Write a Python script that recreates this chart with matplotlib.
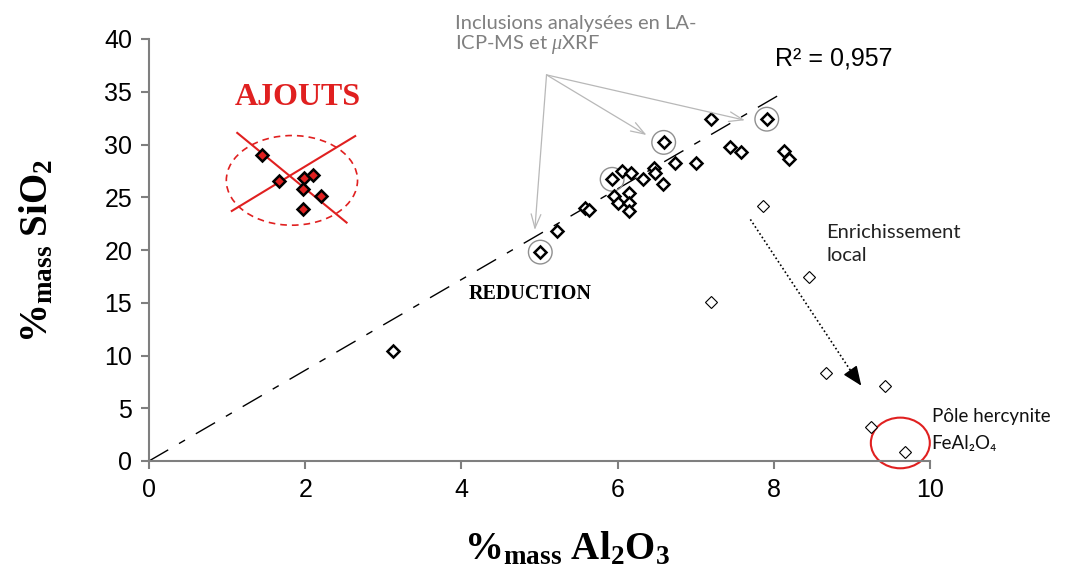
import matplotlib
matplotlib.use("Agg")
import matplotlib.pyplot as plt
from matplotlib.patches import Ellipse
import numpy as np

# main inclusions (thick diamonds)
al2o3 = [3.12, 5.01, 5.22, 5.58, 5.63, 5.93, 6.06, 6.17, 6.32, 6.46, 6.48, 6.58,
         6.59, 6.73, 7.01, 7.19, 7.44, 7.58, 7.91, 8.13, 8.19,
         5.95, 6.14, 6.01, 6.14, 6.15]
sio2 = [10.4, 19.8, 21.8, 24.0, 23.8, 26.7, 27.5, 27.3, 26.7, 27.8, 27.3, 26.3,
        30.2, 28.2, 28.2, 32.4, 29.8, 29.3, 32.4, 29.4, 28.6,
        25.1, 25.4, 24.5, 24.5, 23.7]

# enriched points (thin diamonds)
al2o3_enr = [7.86, 8.45, 7.20, 8.67, 9.42, 9.24, 9.68]
sio2_enr = [24.2, 17.4, 15.1, 8.3, 7.1, 3.2, 0.9]

# additions (red)
al2o3_aj = [1.45, 1.66, 1.98, 2.10, 1.97, 2.20, 1.97]
sio2_aj = [29.0, 26.5, 26.8, 27.1, 25.8, 25.1, 23.9]

# circled points analysed by LA-ICP-MS
al2o3_circ = [5.01, 5.93, 6.59, 7.91]
sio2_circ = [19.8, 26.7, 30.2, 32.4]

slope = 4.3
x_fit_max = 8.05

plt.rcParams['mathtext.fontset'] = 'custom'
plt.rcParams['mathtext.rm'] = 'Liberation Serif'
plt.rcParams['mathtext.bf'] = 'Liberation Serif:bold'
plt.rcParams['mathtext.it'] = 'Liberation Serif:italic'

fig = plt.figure(figsize=(10.67, 5.72), dpi=100)
ax = fig.add_axes([149 / 1067, 1 - 461 / 572, 781 / 1067, 422 / 572])

grey = '#7f7f7f'

# trend line
xf = np.array([0, x_fit_max])
ax.plot(xf, slope * xf, color='k', lw=1, dashes=(16, 9, 5, 9), zorder=2)

ax.scatter(al2o3_circ, sio2_circ, s=290, facecolor='none', edgecolor='#909090', lw=1, zorder=2)
ax.plot(al2o3, sio2, 'D', ms=6.2, mfc='white', mec='k', mew=1.8, zorder=3)
ax.plot(al2o3_enr, sio2_enr, 'D', ms=6, mfc='white', mec='k', mew=0.8, zorder=3)
ax.plot(al2o3_aj, sio2_aj, 'D', ms=6.2, mfc='#e02020', mec='k', mew=1.8, zorder=4)

# crossed-out additions
ax.add_patch(Ellipse((1.83, 26.6), 1.68, 8.5, fill=False, ec='#e02020', lw=1.2, ls=(0, (4, 3)), zorder=1))
ax.plot([1.13, 2.53], [31.1, 22.6], color='#e02020', lw=1.5, zorder=1)
ax.plot([1.06, 2.64], [23.7, 30.8], color='#e02020', lw=1.5, zorder=1)
ax.text(1.91, 33.7, 'AJOUTS', color='#e02020', fontsize=23, fontweight='bold',
        family='Liberation Serif', ha='center', va='baseline')

ax.text(4.88, 15.85, 'REDUCTION', fontsize=14.5, fontweight='bold', family='Liberation Serif',
        ha='center', va='center')

# hercynite pole
ax.add_patch(Ellipse((9.62, 1.71), 0.755, 4.8, fill=False, ec='#e02020', lw=1.5, zorder=1, clip_on=False))

# dotted enrichment arrow
ax.plot([7.70, 8.98], [22.9, 8.6], color='k', lw=1.2, ls=(0, (1, 1.5)))
ax.annotate('', xy=(9.12, 7.14), xytext=(8.98, 8.6),
            arrowprops=dict(arrowstyle='-|>,head_length=1.2,head_width=0.5', color='k', lw=1, shrinkA=0, shrinkB=0))

# grey arrows to analysed inclusions
for tx, ty in [(4.94, 21.9), (6.37, 30.9), (7.63, 32.3)]:
    ax.annotate('', xy=(tx, ty), xytext=(5.09, 36.6),
                arrowprops=dict(arrowstyle='->,head_length=1.0,head_width=0.35', color='#b8b8b8',
                                lw=0.9, shrinkA=0, shrinkB=0))

ax.text(3.92, 42.3, 'Inclusions analysées en LA-\nICP-MS et $\\mu$XRF', color='#808080',
        fontsize=14.5, family=['Lato', 'DejaVu Sans'], ha='left', va='top', linespacing=1.05,
        clip_on=False)
ax.text(8.02, 37.5, 'R² = 0,957', fontsize=18, family='Liberation Sans', va='baseline')
ax.text(8.67, 19.0, 'Enrichissement\nlocal', fontsize=14.5, color='#222222',
        family=['Lato', 'DejaVu Sans'], va='baseline', linespacing=1.4)
ax.text(10.02, 1.1, 'Pôle hercynite\nFeAl₂O₄', fontsize=13.5, color='#111111',
        family=['Lato', 'DejaVu Sans'], va='baseline', linespacing=1.75, clip_on=False)

ax.set_xlim(0, 10)
ax.set_ylim(0, 40)
ax.set_xticks(range(0, 11, 2))
ax.set_yticks(range(0, 41, 5))
for s in ['top', 'right']:
    ax.spines[s].set_visible(False)
for s in ['left', 'bottom']:
    ax.spines[s].set_color(grey)
    ax.spines[s].set_linewidth(1.5)
ax.tick_params(direction='out', length=6, width=1.5, color=grey, labelsize=18, pad=6)
for lab in ax.get_xticklabels() + ax.get_yticklabels():
    lab.set_family('Liberation Sans')

fig.text(567 / 1067, 1 - 548 / 572, r'$\mathbf{\%_{mass}\ Al_2O_3}$', fontsize=28,
         ha='center', va='center')
fig.text(36 / 1067, 1 - 251 / 572, r'$\mathbf{\%_{mass}\ SiO_2}$', fontsize=28,
         ha='center', va='center', rotation=90)

fig.savefig('out.png', dpi=100)
